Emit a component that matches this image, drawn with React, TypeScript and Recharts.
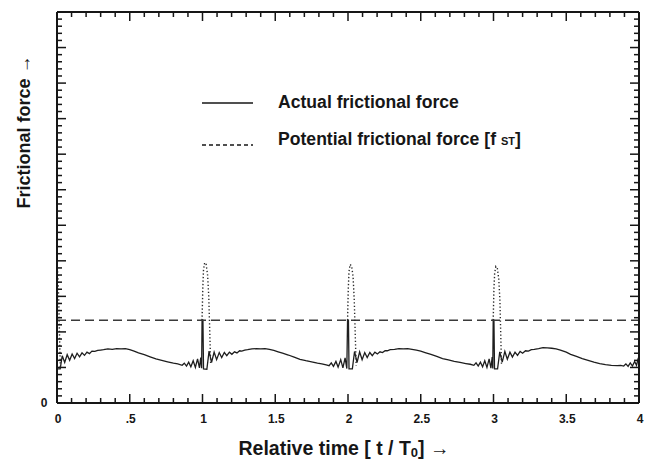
import { LineChart, Line, XAxis, YAxis, Legend } from 'recharts';

const FONT = '"Liberation Sans", Arial, Helvetica, sans-serif';
const INK = '#161616';

// [t / T0, force], one array per period
const period0 = [
  [0, 0.96], [0.022, 0.96], [0.036, 1.33], [0.053, 1.14], [0.07, 1.36], [0.087, 1.2], [0.104, 1.38],
  [0.121, 1.25], [0.138, 1.4], [0.155, 1.3], [0.172, 1.41], [0.189, 1.34], [0.206, 1.43], [0.223, 1.39],
  [0.24, 1.46], [0.26, 1.45], [0.28, 1.48], [0.3, 1.49], [0.32, 1.5], [0.35, 1.52], [0.38, 1.51],
  [0.41, 1.53], [0.44, 1.52], [0.47, 1.53], [0.5, 1.5], [0.53, 1.46], [0.56, 1.41], [0.6, 1.36],
  [0.64, 1.3], [0.68, 1.24], [0.72, 1.2], [0.76, 1.16], [0.8, 1.12], [0.83, 1.1], [0.86, 1.06],
  [0.875, 1.12], [0.89, 1.04], [0.905, 1.15], [0.92, 1.02], [0.936, 1.19], [0.951, 1.0], [0.966, 1.24],
  [0.979, 0.99], [0.988, 1.28], [0.994, 0.98], [0.997, 2.33],
];
const period1 = [
  [1.003, 2.33], [1.007, 0.96], [1.03, 0.95], [1.045, 1.46], [1.062, 1.14], [1.08, 1.43], [1.097, 1.22],
  [1.115, 1.42], [1.132, 1.28], [1.15, 1.42], [1.167, 1.33], [1.185, 1.43], [1.202, 1.37], [1.22, 1.44],
  [1.237, 1.41], [1.255, 1.47], [1.27, 1.46], [1.29, 1.49], [1.31, 1.5], [1.34, 1.52], [1.37, 1.53],
  [1.4, 1.52], [1.43, 1.53], [1.46, 1.51], [1.49, 1.48], [1.52, 1.44], [1.55, 1.4], [1.59, 1.35],
  [1.63, 1.29], [1.67, 1.23], [1.71, 1.19], [1.75, 1.16], [1.79, 1.12], [1.82, 1.1], [1.85, 1.07],
  [1.87, 1.05], [1.885, 1.13], [1.9, 1.03], [1.917, 1.17], [1.932, 1.01], [1.95, 1.22], [1.965, 0.99],
  [1.98, 1.27], [1.992, 0.97], [1.997, 2.33],
];
const period2 = [
  [2.003, 2.33], [2.007, 0.96], [2.03, 0.96], [2.045, 1.45], [2.062, 1.14], [2.08, 1.44], [2.097, 1.22],
  [2.115, 1.42], [2.132, 1.28], [2.15, 1.42], [2.167, 1.33], [2.185, 1.43], [2.202, 1.38], [2.22, 1.44],
  [2.237, 1.42], [2.255, 1.47], [2.27, 1.47], [2.29, 1.5], [2.32, 1.51], [2.35, 1.53], [2.38, 1.52],
  [2.41, 1.53], [2.44, 1.51], [2.47, 1.49], [2.5, 1.46], [2.53, 1.42], [2.57, 1.37], [2.61, 1.31],
  [2.65, 1.25], [2.69, 1.21], [2.73, 1.17], [2.77, 1.14], [2.81, 1.11], [2.84, 1.09], [2.865, 1.06],
  [2.88, 1.13], [2.895, 1.04], [2.91, 1.15], [2.925, 1.02], [2.94, 1.19], [2.955, 1.0], [2.97, 1.24],
  [2.982, 0.98], [2.991, 1.29], [2.995, 0.97], [2.998, 2.33],
];
const period3 = [
  [3.003, 2.33], [3.007, 0.96], [3.028, 0.96], [3.043, 1.44], [3.06, 1.15], [3.078, 1.45], [3.095, 1.23],
  [3.113, 1.43], [3.13, 1.29], [3.148, 1.43], [3.165, 1.34], [3.183, 1.45], [3.2, 1.4], [3.22, 1.47],
  [3.24, 1.46], [3.26, 1.5], [3.28, 1.51], [3.31, 1.53], [3.34, 1.56], [3.37, 1.55], [3.4, 1.54],
  [3.43, 1.52], [3.46, 1.49], [3.5, 1.43], [3.53, 1.37], [3.57, 1.31], [3.61, 1.25], [3.65, 1.2],
  [3.69, 1.15], [3.73, 1.11], [3.77, 1.08], [3.81, 1.06], [3.85, 1.05], [3.875, 1.06], [3.895, 1.04],
  [3.91, 1.1], [3.925, 1.03], [3.94, 1.13], [3.955, 1.04], [3.97, 1.17], [3.983, 1.06], [3.993, 1.23],
  [4.0, 1.18],
];

// dotted overshoot at each sticking point
const overshoot0 = [[0, 3.9], [0.006, 3.6], [0.012, 2.9], [0.018, 1.8], [0.023, 0.97]];
const overshoot1 = [
  [0.997, 2.33], [1.002, 3.2], [1.007, 3.75], [1.015, 3.95], [1.025, 3.9], [1.035, 3.6], [1.043, 3.0],
  [1.05, 2.0], [1.056, 1.1],
];
const overshoot2 = [
  [1.997, 2.33], [2.002, 3.2], [2.007, 3.7], [2.015, 3.9], [2.025, 3.85], [2.035, 3.55], [2.043, 2.9],
  [2.05, 1.9], [2.056, 1.05],
];
const overshoot3 = [
  [2.998, 2.33], [3.003, 3.2], [3.008, 3.65], [3.016, 3.84], [3.026, 3.8], [3.036, 3.5], [3.044, 2.9],
  [3.05, 1.9], [3.055, 1.05],
];

const staticForce = [[0, 2.33], [4, 2.33]];

const xLabels = ['0', '.5', '1', '1.5', '2', '2.5', '3', '3.5', '4'];
const yLabels = ['0'];

const xTicks = Array.from({ length: 41 }, (_, i) => i / 10);
const yTicks = Array.from({ length: 56 }, (_, i) => i / 5);

const rows = (pts: number[][]) => pts.map(([t, f]) => ({ t, f }));
const actualData = rows([...period0, ...period1, ...period2, ...period3]);
const staticData = rows(staticForce);
const overshootData = [overshoot0, overshoot1, overshoot2, overshoot3].flatMap((s) => [
  { t: s[0][0], f: null },
  ...rows(s),
]);

const tickText = { fontFamily: FONT, fontSize: 12, fontWeight: 700, fill: INK };
const titleText = { fontFamily: FONT, fontWeight: 700, fill: INK };
const TICK_W = 1.5;

function BottomTick({ x, y, index }: any) {
  const major = index % 5 === 0;
  return (
    <g>
      <line x1={x} x2={x} y1={y} y2={y - (major ? 9 : 5)} stroke={INK} strokeWidth={TICK_W} />
      {major && (
        <text x={x + 1} y={y + 20} textAnchor="middle" {...tickText}>
          {xLabels[index / 5]}
        </text>
      )}
    </g>
  );
}

function TopTick({ x, y, index }: any) {
  const major = index % 5 === 0;
  return <line x1={x} x2={x} y1={y} y2={y + (major ? 9 : 5)} stroke={INK} strokeWidth={TICK_W} />;
}

function LeftTick({ x, y, index }: any) {
  const major = index % 5 === 0;
  return (
    <g>
      <line x1={x} x2={x + (major ? 9 : 5)} y1={y} y2={y} stroke={INK} strokeWidth={TICK_W} />
      {index === 0 && (
        <text x={x - 13} y={y + 4} textAnchor="middle" {...tickText}>
          {yLabels[0]}
        </text>
      )}
    </g>
  );
}

function RightTick({ x, y, index }: any) {
  const major = index % 5 === 0;
  return <line x1={x} x2={x - (major ? 9 : 5)} y1={y} y2={y} stroke={INK} strokeWidth={TICK_W} />;
}

function XTitle({ viewBox }: any) {
  const vb = viewBox || { x: 57, y: 403, width: 582 };
  return (
    <text x={vb.x + vb.width / 2 - 4} y={vb.y + 52} textAnchor="middle" fontSize={19.5} {...titleText}>
      Relative time [ t / T<tspan fontSize={13} dy={2}>0</tspan>
      <tspan dy={-2}>] →</tspan>
    </text>
  );
}

function YTitle({ viewBox }: any) {
  const vb = viewBox || { x: 57, y: 12, width: 0 };
  const cx = vb.x + vb.width - 27;
  const cy = vb.y + 120;
  return (
    <text x={cx} y={cy} transform={`rotate(-90 ${cx} ${cy})`} textAnchor="middle" fontSize={18} {...titleText}>
      Frictional force →
    </text>
  );
}

function LegendBox({ payload }: any) {
  const items = (payload || []).filter((e: any) => e.type !== 'none');
  const rowY = [18, 60];
  const textY = [23, 60];
  return (
    <svg width={340} height={75} style={{ display: 'block', overflow: 'visible' }}>
      {items.map((entry: any, i: number) => {
        const name: string = entry.value;
        const sub = name.endsWith(' ST]');
        return (
          <g key={name}>
            <line
              x1={7}
              x2={58}
              y1={rowY[i]}
              y2={rowY[i]}
              stroke={INK}
              strokeWidth={1.3}
              strokeDasharray={i === 1 ? '4 3' : undefined}
            />
            <text x={83} y={textY[i]} fontFamily={FONT} fontSize={17.6} fontWeight={700} fill={INK}>
              {sub ? name.slice(0, -4) + ' ' : name}
              {sub && <tspan fontSize={11}>ST</tspan>}
              {sub && ']'}
            </text>
          </g>
        );
      })}
    </svg>
  );
}

export default function App() {
  return (
    <div style={{ position: 'absolute', left: 0, top: 0, width: 652, height: 464, background: '#fff' }}>
      <LineChart width={652} height={464} margin={{ top: 11, right: 12, bottom: 60, left: 56 }}>
        <XAxis
          dataKey="t"
          type="number"
          domain={[0, 4]}
          ticks={xTicks}
          interval={0}
          height={1}
          tickSize={0}
          tickMargin={0}
          tickLine={false}
          tick={(p: any) => <BottomTick {...p} />}
          axisLine={{ stroke: INK, strokeWidth: 2 }}
          allowDataOverflow
          label={{ content: (p: any) => <XTitle {...p} /> }}
        />
        <XAxis
          xAxisId="top"
          orientation="top"
          dataKey="t"
          type="number"
          domain={[0, 4]}
          ticks={xTicks}
          interval={0}
          height={1}
          tickSize={0}
          tickMargin={0}
          tickLine={false}
          tick={(p: any) => <TopTick {...p} />}
          axisLine={{ stroke: INK, strokeWidth: 2 }}
          allowDataOverflow
        />
        <YAxis
          type="number"
          domain={[0, 11]}
          ticks={yTicks}
          interval={0}
          width={1}
          tickSize={0}
          tickMargin={0}
          tickLine={false}
          tick={(p: any) => <LeftTick {...p} />}
          axisLine={{ stroke: INK, strokeWidth: 2 }}
          allowDataOverflow
          label={{ content: (p: any) => <YTitle {...p} /> }}
        />
        <YAxis
          yAxisId="right"
          orientation="right"
          type="number"
          domain={[0, 11]}
          ticks={yTicks}
          interval={0}
          width={1}
          tickSize={0}
          tickMargin={0}
          tickLine={false}
          tick={(p: any) => <RightTick {...p} />}
          axisLine={{ stroke: INK, strokeWidth: 2 }}
          allowDataOverflow
        />
        <Line
          data={actualData}
          dataKey="f"
          name="Actual frictional force"
          type="linear"
          stroke="#1e1e1e"
          strokeWidth={1.3}
          dot={false}
          isAnimationActive={false}
        />
        <Line
          data={staticData}
          dataKey="f"
          name="Potential frictional force [f ST]"
          type="linear"
          stroke="#3a3a3a"
          strokeWidth={1.5}
          strokeDasharray="9 5"
          dot={false}
          isAnimationActive={false}
        />
        <Line
          data={overshootData}
          dataKey="f"
          name="overshoot"
          legendType="none"
          type="linear"
          stroke="#2a2a2a"
          strokeWidth={1.4}
          strokeDasharray="1.3 2.2"
          dot={false}
          connectNulls={false}
          isAnimationActive={false}
        />
        <Legend
          layout="horizontal"
          verticalAlign="middle"
          align="center"
          wrapperStyle={{ left: 195, top: 85, width: 340, height: 75 }}
          content={(p: any) => <LegendBox {...p} />}
        />
      </LineChart>
    </div>
  );
}
